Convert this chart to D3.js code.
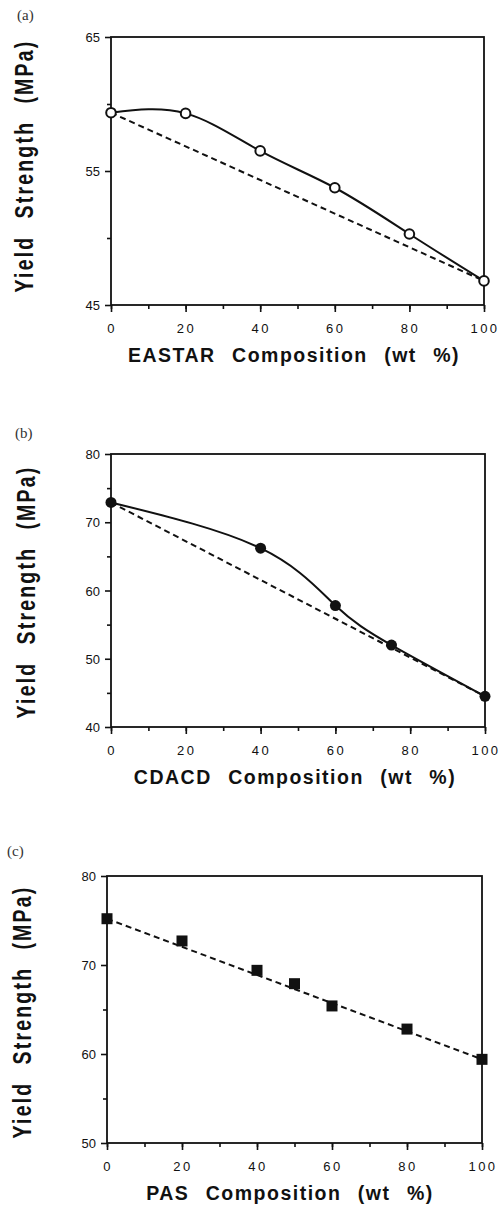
<!DOCTYPE html>
<html>
<head>
<meta charset="utf-8">
<script src="https://cdn.jsdelivr.net/npm/d3@7"></script>
<style>
  html, body { margin: 0; padding: 0; background: #fff; }
  svg { display: block; }
</style>
</head>
<body>
<svg id="chart" width="500" height="1206"></svg>
<script>
// ---------- DATA ----------
const xTickValues = [0, 20, 40, 60, 80, 100];
const xMinorTickValues = [0, 10, 20, 30, 40, 50, 60, 70, 80, 90, 100];

// (a) EASTAR
const compA = [0, 20, 40, 60, 80, 100];
const yieldA = [59.35, 59.3, 56.5, 53.75, 50.3, 46.8];
const yTicksA = [45, 55, 65];
const yMinorA = [50, 60];

// (b) CDACD
const compB = [0, 40, 60, 75, 100];
const yieldB = [72.9, 66.2, 57.8, 52.0, 44.5];
const yTicksB = [40, 50, 60, 70, 80];
const yMinorB = [45, 55, 65, 75];

// (c) PAS
const compC = [0, 20, 40, 50, 60, 80, 100];
const yieldC = [75.2, 72.7, 69.4, 67.9, 65.4, 62.8, 59.4];
const yTicksC = [50, 60, 70, 80];
const yMinorC = [55, 65, 75];

const panelLetters = ["(a)", "(b)", "(c)"];
const xTitles = ["EASTAR Composition (wt %)", "CDACD Composition (wt %)", "PAS Composition (wt %)"];
const yTitle = "Yield Strength (MPa)";

// ---------- DRAWING ----------
const svg = d3.select("#chart");
const INK = "#111";
const SANS = "'Liberation Sans', Arial, Helvetica, sans-serif";
const SERIF = "'Liberation Serif', 'DejaVu Serif', serif";

function drawPanel(cfg) {
  const x = d3.scaleLinear().domain([0, 100]).range([cfg.x0, cfg.x1]);
  const y = d3.scaleLinear().domain(cfg.yDomain).range([cfg.yBottom, cfg.yTop]);
  const g = svg.append("g");

  // panel letter
  g.append("text")
    .attr("x", cfg.letterX).attr("y", cfg.letterY)
    .attr("font-family", SERIF).attr("font-size", 15).attr("fill", "#333")
    .text(cfg.letter);

  // frame
  g.append("rect")
    .attr("x", x(0)).attr("y", y(cfg.yDomain[1]))
    .attr("width", x(100) - x(0)).attr("height", y(cfg.yDomain[0]) - y(cfg.yDomain[1]))
    .attr("fill", "none").attr("stroke", INK).attr("stroke-width", 1.8);

  // x axis (minor ticks every 10, major labelled every 20)
  const xAxisMinor = d3.axisBottom(x).tickValues(xMinorTickValues).tickSize(4).tickFormat("");
  const xAxisMajor = d3.axisBottom(x).tickValues(xTickValues).tickSize(7).tickPadding(0).tickFormat(d3.format("d"));
  const gxm = g.append("g").attr("transform", `translate(0,${y(cfg.yDomain[0])})`).call(xAxisMinor);
  const gx = g.append("g").attr("transform", `translate(0,${y(cfg.yDomain[0])})`).call(xAxisMajor);
  [gxm, gx].forEach(a => {
    a.select(".domain").remove();
    a.selectAll(".tick line").attr("stroke", INK).attr("stroke-width", 1.6);
  });
  gx.selectAll(".tick text")
    .attr("y", 28).attr("dy", 0)
    .attr("font-family", SANS).attr("font-size", 13)
    .attr("letter-spacing", "2.5px").attr("dx", 0.5)
    .attr("fill", INK);

  // y axis
  const yAxisMinor = d3.axisLeft(y).tickValues(cfg.yMinor).tickSize(4).tickFormat("");
  const yAxisMajor = d3.axisLeft(y).tickValues(cfg.yTicks).tickSize(6).tickPadding(5).tickFormat(d3.format("d"));
  const gym = g.append("g").attr("transform", `translate(${x(0)},0)`).call(yAxisMinor);
  const gy = g.append("g").attr("transform", `translate(${x(0)},0)`).call(yAxisMajor);
  [gym, gy].forEach(a => {
    a.select(".domain").remove();
    a.selectAll(".tick line").attr("stroke", INK).attr("stroke-width", 1.6);
  });
  gy.selectAll(".tick text")
    .attr("font-family", SANS).attr("font-size", 13).attr("fill", INK)
    .attr("dy", "0.36em");

  // x title
  g.append("text")
    .attr("x", cfg.xTitleX).attr("y", y(cfg.yDomain[0]) + 57)
    .attr("text-anchor", "middle")
    .attr("font-family", SANS).attr("font-weight", "bold").attr("font-size", 19.5)
    .attr("letter-spacing", "1.5px").attr("word-spacing", "9.5px")
    .attr("fill", INK)
    .text(cfg.xTitle);

  // y title (rotated, tall glyphs)
  g.append("text")
    .attr("transform", `translate(${cfg.yTitleX},${cfg.yTitleY}) rotate(-90) scale(1,1.35)`)
    .attr("text-anchor", "middle").attr("dy", "0.36em")
    .attr("font-family", SANS).attr("font-weight", "bold").attr("font-size", 19.5)
    .attr("letter-spacing", "2.2px").attr("word-spacing", "9.5px")
    .attr("fill", INK)
    .text(yTitle);

  const pts = cfg.comp.map((c, i) => [c, cfg.vals[i]]);

  // dashed additivity line between pure components
  const ends = [pts[0], pts[pts.length - 1]];
  g.append("path")
    .attr("d", d3.line().x(d => x(d[0])).y(d => y(d[1]))(ends))
    .attr("fill", "none").attr("stroke", INK).attr("stroke-width", 2)
    .attr("stroke-dasharray", "6,4");

  // solid smooth curve through data
  if (cfg.solid) {
    g.append("path")
      .attr("d", d3.line().x(d => x(d[0])).y(d => y(d[1])).curve(cfg.curve)(pts))
      .attr("fill", "none").attr("stroke", INK).attr("stroke-width", 2);
  }

  // markers
  if (cfg.marker === "open") {
    g.selectAll("circle.m").data(pts).join("circle")
      .attr("cx", d => x(d[0])).attr("cy", d => y(d[1])).attr("r", 4.8)
      .attr("fill", "#fff").attr("stroke", INK).attr("stroke-width", 2);
  } else if (cfg.marker === "filled") {
    g.selectAll("circle.m").data(pts).join("circle")
      .attr("cx", d => x(d[0])).attr("cy", d => y(d[1])).attr("r", 5.5)
      .attr("fill", INK);
  } else {
    const s = 11;
    g.selectAll("rect.m").data(pts).join("rect")
      .attr("x", d => x(d[0]) - s / 2).attr("y", d => y(d[1]) - s / 2)
      .attr("width", s).attr("height", s).attr("fill", INK);
  }
}

drawPanel({
  letter: panelLetters[0], letterX: 17, letterY: 20,
  x0: 111, x1: 484, yTop: 37, yBottom: 305, yDomain: [45, 65],
  yTicks: yTicksA, yMinor: yMinorA,
  comp: compA, vals: yieldA, solid: true, curve: d3.curveNatural, marker: "open",
  xTitle: xTitles[0], xTitleX: 294, yTitleX: 24, yTitleY: 166
});

drawPanel({
  letter: panelLetters[1], letterX: 15, letterY: 438,
  x0: 111, x1: 485, yTop: 454, yBottom: 727, yDomain: [40, 80],
  yTicks: yTicksB, yMinor: yMinorB,
  comp: compB, vals: yieldB, solid: true, curve: d3.curveNatural, marker: "filled",
  xTitle: xTitles[1], xTitleX: 295, yTitleX: 26, yTitleY: 592
});

drawPanel({
  letter: panelLetters[2], letterX: 7, letterY: 856,
  x0: 107, x1: 482, yTop: 876, yBottom: 1143, yDomain: [50, 80],
  yTicks: yTicksC, yMinor: yMinorC,
  comp: compC, vals: yieldC, solid: false, marker: "square",
  xTitle: xTitles[2], xTitleX: 290, yTitleX: 22, yTitleY: 1012
});
</script>
</body>
</html>
